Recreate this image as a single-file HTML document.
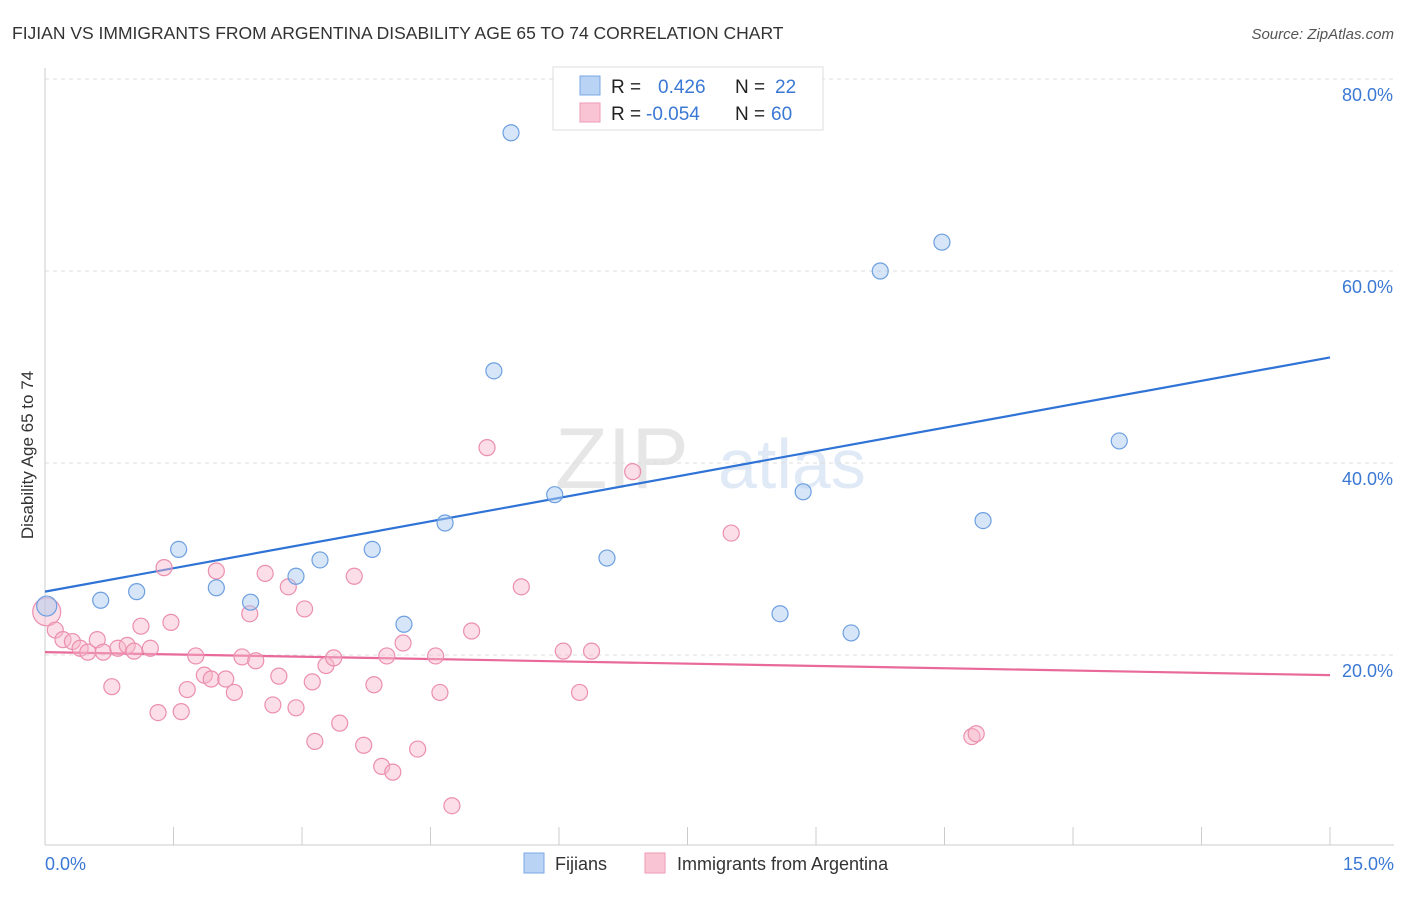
<!DOCTYPE html>
<html><head><meta charset="utf-8"><style>
body{margin:0;background:#fff;font-family:"Liberation Sans",sans-serif;}
svg text{font-family:"Liberation Sans",sans-serif;}
</style></head><body>
<svg width="1406" height="892" viewBox="0 0 1406 892">
<text x="12" y="39" font-size="17.5" fill="#333">FIJIAN VS IMMIGRANTS FROM ARGENTINA DISABILITY AGE 65 TO 74 CORRELATION CHART</text>
<text x="1394" y="39" font-size="15" fill="#555" text-anchor="end" font-style="italic">Source: ZipAtlas.com</text>
<text transform="translate(33,455) rotate(-90)" font-size="17" fill="#333" text-anchor="middle">Disability Age 65 to 74</text>
<g opacity="0.18">
<text x="555" y="488" font-size="86" font-family="Liberation Serif,serif" fill="#777">ZIP</text>
<text x="718" y="488" font-size="70" fill="#5b8fd6">atlas</text>
</g>
<g id="grid"></g>
<line x1="45" y1="68" x2="45" y2="845" stroke="#ccc"/>
<line x1="45" y1="845" x2="1394" y2="845" stroke="#ccc"/>
<g id="xticks"></g>
<text x="45" y="870" font-size="18" fill="#3a78d4">0.0%</text>
<text x="1394" y="870" font-size="18" fill="#3a78d4" text-anchor="end">15.0%</text>
<g id="lines"></g>
<g id="pts"></g>
<g>
<rect x="553" y="67" width="270" height="63" fill="#fff" stroke="#ddd"/>
<rect x="580" y="76" width="20" height="19" fill="#b9d3f5" stroke="#7aa7e6"/>
<rect x="580" y="103" width="20" height="19" fill="#f9c5d5" stroke="#ee9ab5"/>
<text x="611" y="93" font-size="19" fill="#222">R =</text>
<text x="658" y="93" font-size="19" fill="#3a78d4">0.426</text>
<text x="735" y="93" font-size="19" fill="#222">N =</text>
<text x="775" y="93" font-size="19" fill="#3a78d4">22</text>
<text x="611" y="120" font-size="19" fill="#222">R =</text>
<text x="646" y="120" font-size="19" fill="#3a78d4">-0.054</text>
<text x="735" y="120" font-size="19" fill="#222">N =</text>
<text x="771" y="120" font-size="19" fill="#3a78d4">60</text>
</g>
<g>
<rect x="524" y="853" width="20" height="20" fill="#b9d3f5" stroke="#7aa7e6"/>
<text x="555" y="870" font-size="18" fill="#333">Fijians</text>
<rect x="645" y="853" width="20" height="20" fill="#f9c5d5" stroke="#ee9ab5"/>
<text x="677" y="870" font-size="18" fill="#333">Immigrants from Argentina</text>
</g>
</svg>
<script>
const yTicks=[20,40,60,80];
const yTickLabels=["20.0%","40.0%","60.0%","80.0%"];
const xTickVals=[0,1.5,3,4.5,6,7.5,9,10.5,12,13.5,15];
const fijiX=[0.02,0.65,1.07,1.56,2.0,2.4,2.93,3.21,3.82,4.19,4.67,5.24,5.44,5.95,6.56,8.58,8.85,9.41,9.75,10.47,10.95,12.54];
const fijiY=[25.1,25.7,26.6,31.0,27.0,25.5,28.2,29.9,31.0,23.2,33.75,49.6,74.4,36.7,30.1,24.3,37.0,22.3,60.0,63.0,34.0,42.3];
const argX=[0.02,0.12,0.21,0.32,0.41,0.50,0.61,0.68,0.78,0.85,0.96,1.04,1.12,1.23,1.32,1.39,1.47,1.59,1.66,1.76,1.86,1.94,2.0,2.11,2.21,2.30,2.39,2.46,2.57,2.66,2.73,2.84,2.93,3.03,3.12,3.15,3.28,3.37,3.44,3.61,3.72,3.84,3.93,3.99,4.06,4.18,4.35,4.56,4.61,4.75,4.98,5.16,5.56,6.05,6.24,6.38,6.86,8.01,10.82,10.87];
const argY=[24.5,22.6,21.6,21.4,20.7,20.3,21.6,20.3,16.7,20.7,21.0,20.4,23.0,20.7,14.0,29.1,23.4,14.1,16.4,19.9,17.9,17.5,28.75,17.5,16.1,19.8,24.3,19.4,28.5,14.8,17.8,27.1,14.5,24.8,17.2,11.0,18.9,19.7,12.9,28.2,10.6,16.9,8.4,19.9,7.8,21.25,10.2,19.9,16.1,4.3,22.5,41.6,27.1,20.4,16.1,20.4,39.1,32.7,11.5,11.8];
const fijiTrend=[26.6,51.0];
const argTrend=[20.3,17.9];
const NS="http://www.w3.org/2000/svg";
const xs=v=>45+v*(1285/15);
const ys=v=>847-v*9.6;
function mk(tag,attrs,parent){const e=document.createElementNS(NS,tag);for(const k in attrs)e.setAttribute(k,attrs[k]);parent.appendChild(e);return e;}
const grid=document.getElementById('grid');
yTicks.forEach((t,i)=>{
 const l=mk('line',{x1:45,x2:1394,y1:ys(t),y2:ys(t),stroke:'#ddd','stroke-dasharray':'4,4'},grid);
 
 
 const tx=mk('text',{x:1393,y:ys(t)+22,'font-size':18,fill:'#3a78d4','text-anchor':'end'},grid);
 tx.textContent=yTickLabels[i];
 
 
});
const xt=document.getElementById('xticks');
xTickVals.forEach(v=>{
 const l=mk('line',{x1:xs(v),x2:xs(v),y1:827,y2:845,stroke:'#ccc'},xt);
 
 
});
const pts=document.getElementById('pts');
argX.forEach((x,i)=>{
 const c=mk('circle',{cx:xs(x),cy:ys(argY[i]),r:i===0?14:8,fill:'#f7b6ca','fill-opacity':0.45,stroke:'#eb8fae','stroke-width':1.2},pts);
 
 
});
fijiX.forEach((x,i)=>{
 const c=mk('circle',{cx:xs(x),cy:ys(fijiY[i]),r:i===0?10:8,fill:'#aecbf0','fill-opacity':0.5,stroke:'#6d9fe0','stroke-width':1.2},pts);
 
 
});
const lines=document.getElementById('lines');
const fl=mk('line',{x1:xs(0),y1:ys(fijiTrend[0]),x2:xs(15),y2:ys(fijiTrend[1]),stroke:'#2f73d6','stroke-width':2.2},lines);


const al=mk('line',{x1:xs(0),y1:ys(argTrend[0]),x2:xs(15),y2:ys(argTrend[1]),stroke:'#e8699a','stroke-width':2.2},lines);


</script>
</body></html>
